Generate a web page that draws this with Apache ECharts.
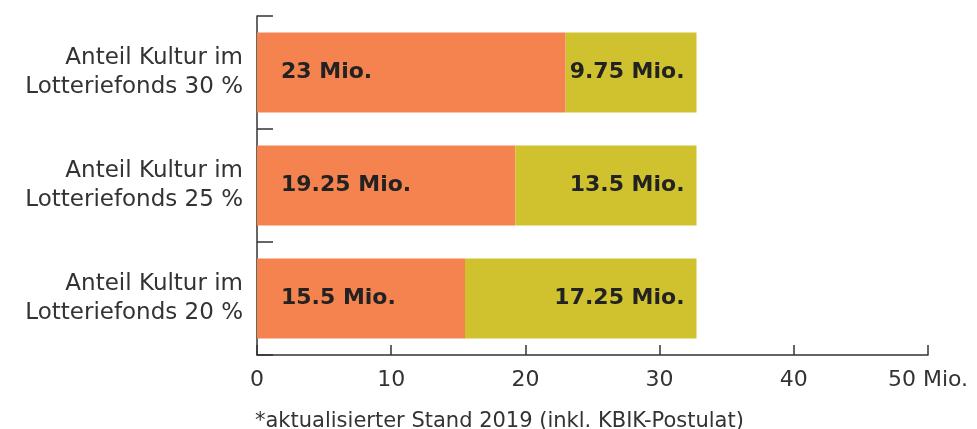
<!DOCTYPE html>
<html><head><meta charset="utf-8">
<script src="https://cdn.jsdelivr.net/npm/echarts@6/dist/echarts.min.js"></script>
<style>html,body{margin:0;padding:0;background:#fff}#c{width:977px;height:429px}</style>
</head><body><div id="c"></div>
<script>
const categories = ["Anteil Kultur im\nLotteriefonds 30 %", "Anteil Kultur im\nLotteriefonds 25 %", "Anteil Kultur im\nLotteriefonds 20 %"];
const cultureShare = [23, 19.25, 15.5];
const otherShare = [9.75, 13.5, 17.25];
const xTicks = [0, 10, 20, 30, 40, 50];
const footnote = "*aktualisierter Stand 2019 (inkl. KBIK-Postulat)";

const FONT = "DejaVu Sans";
const chart = echarts.init(document.getElementById('c'));
chart.setOption({
  animation: false,
  grid: {left: 257, right: 49, top: 16, bottom: 74},
  graphic: [{type: 'text', left: 255, top: 411, style: {text: footnote, font: '21px "' + FONT + '"', fill: '#333'}}],
  xAxis: {
    type: 'value', min: xTicks[0], max: xTicks[xTicks.length-1], interval: 10,
    splitLine: {show: false},
    axisLine: {show: true, lineStyle: {color: '#333', width: 1.5}},
    axisTick: {show: true, inside: true, length: 10, lineStyle: {color: '#333', width: 1.5}},
    axisLabel: {fontFamily: FONT, fontSize: 22, color: '#333', margin: 14,
      formatter: v => v === 50 ? '50 Mio.' : String(v)}
  },
  yAxis: {
    type: 'category', data: categories, inverse: true,
    axisLine: {show: true, lineStyle: {color: '#333', width: 1.5}},
    axisTick: {show: true, inside: true, length: 16, lineStyle: {color: '#333', width: 1.5}},
    axisLabel: {fontFamily: FONT, fontSize: 23, color: '#333', margin: 14, lineHeight: 29, align: 'right'}
  },
  series: [
    {type: 'bar', stack: 't', data: cultureShare, barWidth: '71%', itemStyle: {color: '#F4834F'},
     label: {show: true, position: 'insideLeft', distance: 24, fontFamily: FONT, fontWeight: 'bold', fontSize: 22, color: '#222',
       formatter: p => p.value + ' Mio.'}},
    {type: 'bar', stack: 't', data: otherShare, barWidth: '71%', itemStyle: {color: '#D0C22E'},
     label: {show: true, position: 'insideRight', distance: 12, fontFamily: FONT, fontWeight: 'bold', fontSize: 22, color: '#222',
       formatter: p => p.value + ' Mio.'}}
  ]
});
</script></body></html>
